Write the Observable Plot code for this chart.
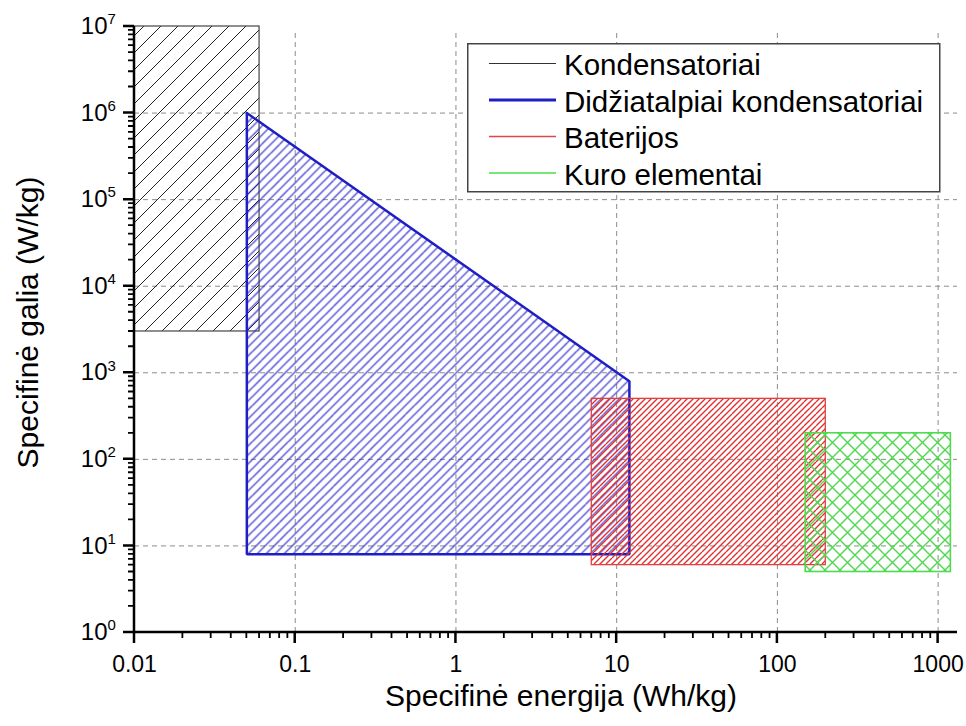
<!DOCTYPE html>
<html><head><meta charset="utf-8">
<script src="https://cdn.jsdelivr.net/npm/d3@7"></script>
<script src="https://cdn.jsdelivr.net/npm/@observablehq/plot@0.6"></script>
<style>
body{margin:0;background:#fff;font-family:"Liberation Sans",Arial,sans-serif;}
#wrap{position:relative;width:966px;height:726px;}
#legend{position:absolute;left:467px;top:43px;}
</style></head><body><div id="wrap"></div>
<script>
const seriesNames = ["Kondensatoriai","Didžiatalpiai kondensatoriai","Baterijos","Kuro elementai"];
const seriesColors = ["#333333","#1e1ec4","#e04848","#4ddc4d"];
const legendWidths = [1, 3, 1.5, 1.5];

// Kondensatoriai (rectangle)
const kondEnergy = [0.01, 0.06];
const kondPower = [3000, 1e7];
// Didžiatalpiai kondensatoriai (polygon, closed)
const didzEnergy = [0.05, 0.05, 12, 12, 0.05];
const didzPower = [1e6, 8, 8, 800, 1e6];
// Baterijos (rectangle)
const batEnergy = [7, 200];
const batPower = [6, 500];
// Kuro elementai (rectangle)
const kuroEnergy = [150, 1200];
const kuroPower = [5, 200];

const xTickValues = [0.01, 0.1, 1, 10, 100, 1000];
const xTickLabels = ["0.01", "0.1", "1", "10", "100", "1000"];
const yTickValues = [1, 10, 100, 1000, 1e4, 1e5, 1e6, 1e7];
const yTickBase = "10";
const yTickExponents = ["0","1","2","3","4","5","6","7"];

const xMinor = [];
xTickValues.forEach(d => { for (let k = 2; k <= 9; k++) if (d*k < 1320) xMinor.push(d*k); });
const yMinor = [];
yTickValues.slice(0, -1).forEach(d => { for (let k = 2; k <= 9; k++) yMinor.push(d*k); });

const W = 966, H = 726, mL = 134, mR = 9, mT = 26, mB = 94;
const majorLen = 11, minorLen = 6;

const font = "'Liberation Sans', Arial, sans-serif";
const gridStyle = {stroke: "#8c8c8c", strokeOpacity: 1, strokeWidth: 1, strokeDasharray: "5,4"};

const rectOf = (e, p) => [{e1: e[0], e2: e[1], p1: p[0], p2: p[1]}];
const didzIdx = didzEnergy.map((_, i) => i);

const chart = Plot.plot({
  width: W, height: H,
  marginLeft: mL, marginRight: mR, marginTop: mT, marginBottom: mB,
  x: {type: "log", domain: [0.01, 1320], axis: null},
  y: {type: "log", domain: [1, 1e7], axis: null},
  style: {fontFamily: font, background: "white", overflow: "visible", color: "black"},
  marks: [
    Plot.ruleX(xTickValues.slice(1), {x: d => d, insetTop: 7, ...gridStyle}),
    Plot.ruleY(yTickValues.slice(1, -1), {y: d => d, ...gridStyle}),
    Plot.rect(rectOf(kondEnergy, kondPower), {x1: "e1", x2: "e2", y1: "p1", y2: "p2", fill: "url(#hK)", stroke: "#444", strokeWidth: 1.2}),
    Plot.line(didzIdx, {x: i => didzEnergy[i], y: i => didzPower[i], fill: "url(#hB)", stroke: "#1e1ec4", strokeWidth: 2.5, strokeLinejoin: "miter"}),
    Plot.rect(rectOf(batEnergy, batPower), {x1: "e1", x2: "e2", y1: "p1", y2: "p2", fill: "url(#hR)", stroke: "#e04040", strokeWidth: 1.3}),
    Plot.rect(rectOf(kuroEnergy, kuroPower), {x1: "e1", x2: "e2", y1: "p1", y2: "p2", fill: "url(#hG)", stroke: "#4ddc4d", strokeWidth: 1.6}),
    Plot.text(xTickValues, {x: d => d, frameAnchor: "bottom", lineAnchor: "middle", textAnchor: "middle", dy: 32, text: (d, i) => xTickLabels[i], fontSize: 23, fill: "black"}),
    Plot.text(yTickValues, {y: d => d, frameAnchor: "left", lineAnchor: "middle", dx: -27, textAnchor: "end", text: () => yTickBase, fontSize: 24, fill: "black"}),
    Plot.text(yTickValues, {y: d => d, frameAnchor: "left", lineAnchor: "middle", dx: -27, dy: -7, textAnchor: "start", text: (d, i) => yTickExponents[i], fontSize: 15, fill: "black"}),
    Plot.text(["Specifinė energija (Wh/kg)"], {frameAnchor: "bottom", lineAnchor: "middle", textAnchor: "middle", dx: 15, dy: 64, text: d => d, fontSize: 30, fill: "black"}),
    Plot.text(["Specifinė galia (W/kg)"], {frameAnchor: "left", lineAnchor: "middle", textAnchor: "middle", dx: -106, dy: -7, rotate: -90, text: d => d, fontSize: 30, fill: "black"})
  ]
});

chart.insertAdjacentHTML("afterbegin", `
<defs>
  <pattern id="hK" patternUnits="userSpaceOnUse" width="17" height="17">
    <path d="M0,17L17,0M-2,2L2,-2M15,19L19,15" stroke="#222" stroke-width="1" fill="none"/>
  </pattern>
  <pattern id="hB" patternUnits="userSpaceOnUse" width="18" height="18">
    <path d="M0,9L9,0M0,18L18,0M9,18L18,9M-2,2L2,-2M16,20L20,16" stroke="#2a2acc" stroke-width="1.2" fill="none"/>
  </pattern>
  <pattern id="hR" patternUnits="userSpaceOnUse" width="12" height="12">
    <path d="M0,6L6,0M0,12L12,0M6,12L12,6M-2,2L2,-2M10,14L14,10" stroke="#e03030" stroke-width="1.4" fill="none"/>
  </pattern>
  <pattern id="hG" patternUnits="userSpaceOnUse" width="15" height="15">
    <path d="M0,15L15,0M-2,2L2,-2M13,17L17,13M0,0L15,15M-2,13L2,17M13,-2L17,2" stroke="#4fd84f" stroke-width="1.4" fill="none"/>
  </pattern>
</defs>`);

const wrap = document.getElementById("wrap");
wrap.appendChild(chart);

// Axis lines with their ticks as one comb path, positioned through the chart's own scales
const sx = chart.scale("x"), sy = chart.scale("y");
const xLeft = sx.apply(0.01), xRight = W - mR;
const yBottom = sy.apply(1), yTop = sy.apply(1e7);
let dMajor = `M${xLeft},${yTop}V${yBottom}H${xRight}`;
xTickValues.forEach(v => { dMajor += `M${sx.apply(v)},${yBottom}v${majorLen}`; });
yTickValues.forEach(v => { dMajor += `M${xLeft},${sy.apply(v)}h${-majorLen}`; });
let dMinor = "";
xMinor.forEach(v => { dMinor += `M${sx.apply(v)},${yBottom}v${minorLen}`; });
yMinor.forEach(v => { dMinor += `M${xLeft},${sy.apply(v)}h${-minorLen}`; });
const axisG = d3.select(chart).append("g").attr("aria-label", "axes").attr("fill", "none").attr("stroke", "black");
axisG.append("path").attr("d", dMinor).attr("stroke-width", 1.8);
axisG.append("path").attr("d", dMajor).attr("stroke-width", 2.5);

// Legend
const legend = d3.select(wrap).append("svg").attr("id", "legend")
  .attr("width", 474).attr("height", 150);
legend.append("rect").attr("x", 0.75).attr("y", 0.75).attr("width", 472).attr("height", 148)
  .attr("fill", "white").attr("stroke", "#444").attr("stroke-width", 1.5);
const rowBase = [32, 68.5, 105, 141.5];
seriesNames.forEach((name, i) => {
  legend.append("line").attr("x1", 22).attr("x2", 89)
    .attr("y1", rowBase[i] - 11.5).attr("y2", rowBase[i] - 11.5)
    .attr("stroke", seriesColors[i]).attr("stroke-width", legendWidths[i]);
  legend.append("text").attr("x", 97).attr("y", rowBase[i])
    .attr("font-family", font).attr("font-size", 29.5).attr("fill", "black").text(name);
});
</script></body></html>
